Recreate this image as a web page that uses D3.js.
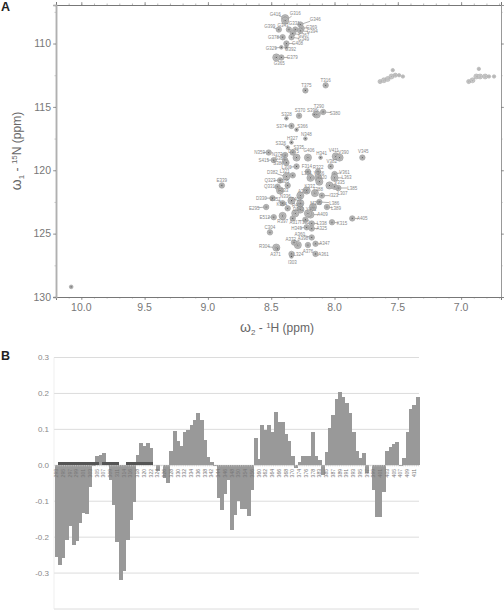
<!DOCTYPE html>
<html>
<head>
<meta charset="utf-8">
<script src="https://cdnjs.cloudflare.com/ajax/libs/d3/7.8.5/d3.min.js"></script>
<style>
html, body { margin: 0; padding: 0; background: #fff; }
svg { display: block; font-family: "Liberation Sans", Arial, sans-serif; }
</style>
</head>
<body>
<div id="chart"></div>
<script>
// panel A, 1H-15N peaks: assignment, 1H ppm, 15N ppm, relative intensity
const peakNames = [
  "G416","G316","G346","G399","G343","G331","G369","G394","G367","G349",
  "G378","G408","G392","G329","G379","G365","T375","T316","T290","S380",
  "S396","S370","S328","S374","S366","N348","H327","S326","S335","N359",
  "N373","S415","S381","S386","G406","D375","H341","V411","V390","V345",
  "V382","L300","F314","R322","V361","L363","D382","L321","V366","Q323",
  "Q331","D330","E295","E512","R397","A317","T302","L338","A409","K315",
  "A405","H349","A325","C304","A360","A372","A398","A347","A376","R304",
  "A371","L324","A361","I303","E339","",
  "L354","I320","L307","L385","V335","S305","F333","N336","A362","K337",
  "T388","I323","L389","L386","R400","Y401","T403","E351","K334","D342","M393"
];
const peakH = [
  8.39,8.39,8.27,8.44,8.36,8.31,8.26,8.27,8.33,8.34,
  8.41,8.38,8.38,8.42,8.42,8.46,8.23,8.07,8.14,8.09,
  8.16,8.28,8.38,8.34,8.30,8.23,8.34,8.37,8.33,8.52,
  8.39,8.48,8.39,8.38,8.21,8.30,8.11,7.99,7.96,7.78,
  8.03,8.30,8.21,8.13,8.00,8.00,8.38,8.33,8.13,8.43,
  8.45,8.49,8.54,8.48,8.41,8.33,8.23,8.18,8.19,8.02,
  7.86,8.22,8.18,8.51,8.18,8.29,8.32,8.15,8.21,8.46,
  8.45,8.34,8.15,8.34,8.89,10.08,
  8.19,8.12,8.04,7.97,8.00,8.37,8.43,8.34,8.27,8.22,
  8.155,8.10,8.06,8.12,8.27,8.21,8.27,8.41,8.37,8.31,8.17
];
const peakN = [
  108.0,108.2,108.5,108.9,108.9,108.9,108.8,109.0,109.2,109.5,
  109.5,110.0,110.3,110.3,111.1,111.1,113.7,113.3,115.6,115.4,
  115.6,115.7,115.9,116.5,116.8,117.5,117.8,118.2,118.6,118.6,
  118.8,119.2,119.2,119.4,119.0,119.0,119.0,118.9,119.0,119.0,
  119.7,119.7,120.1,120.1,120.3,120.6,120.5,120.4,120.6,120.8,
  121.3,122.2,122.9,123.7,123.6,123.8,123.9,124.2,123.5,124.1,
  123.8,124.5,124.6,124.9,125.3,125.9,125.7,125.8,125.9,126.1,
  126.2,126.6,126.6,126.8,121.2,129.2,
  120.6,120.9,121.2,121.4,121.3,121.2,121.6,122.4,122.0,121.6,
  121.8,122.0,122.9,122.5,123.1,123.4,122.6,122.6,123.0,123.4,122.9
];
const peakIntensity = [
  3,3,2,2,2,2,2,2,2,2,
  2,2,1,1,2,3,2,2,3,2,
  1,2,1,2,1,1,1,1,2,2,
  2,2,2,2,3,3,1,3,3,2,
  2,2,2,2,2,3,3,2,3,2,
  2,2,2,2,3,2,2,2,3,2,
  2,2,2,2,2,3,2,2,2,3,
  1,2,2,1,2,1,
  3,3,3,2,2,2,3,3,3,3,
  3,2,2,2,3,3,3,2,2,3,3
];

// sidechain NH2 blobs, upper right of the spectrum
const sidechainH = [7.64,7.61,7.58,7.55,7.52,7.49,7.46,7.54, 6.94,6.91,6.88,6.85,6.81,6.78,6.74,6.86];
const sidechainN = [113.0,112.9,112.8,112.6,112.5,112.5,112.6,112.1, 113.0,112.9,112.6,112.6,112.6,112.6,112.6,112.0];
const sidechainIntensity = [1.5,2,2,2,1.5,1,1,1, 1.5,2,2,2,2,1,1,1];

// panel B, residue numbers and per residue values
const residues = [
  293,294,295,296,297,298,299,300,301,302,303,304,305,306,307,308,309,310,311,312,
  314,315,316,317,318,319,320,321,322,323,324,325,326,327,328,329,330,331,332,333,334,335,336,337,338,
  341,342,343,344,345,346,347,348,349,350,
  353,354,355,356,357,
  360,361,362,363,364,365,366,367,368,369,370,
  373,374,375,376,377,378,379,
  383,384,385,386,387,388,389,390,391,392,393,394,395,396,397,398,399,400,401,402,403,404,405,406,407,408,409,410,411,412
];
const values = [
  -0.255,-0.277,-0.258,-0.207,-0.168,-0.222,-0.212,-0.162,-0.133,-0.135,
  -0.06,-0.002,0.025,0.028,0.035,0,-0.04,-0.11,-0.213,-0.32,
  -0.295,-0.207,-0.152,-0.103,0.028,0.062,0.054,0.063,0.049,0.002,
  -0.015,0,-0.035,-0.05,0.04,0.096,0.067,0.055,0.093,0.097,
  0.113,0.125,0.145,0.125,0.07,0.022,0.01,-0.003,-0.092,-0.125,
  -0.08,-0.04,-0.18,-0.138,-0.10,-0.123,-0.123,-0.14,-0.07,0.077,
  0.017,0.113,0.098,0.113,0.092,0.148,0.12,0.12,0.086,0.068,
  0.027,-0.008,0.01,0.027,0.026,0.026,0.092,0.026,0.015,-0.028,
  0.037,0.105,0.14,0.185,0.205,0.19,0.173,0.145,0.093,0.04,
  0.02,0.033,-0.022,0,-0.068,-0.143,-0.143,-0.073,0.04,0.05,
  0.06,0.065,-0.003,0.02,0.092,0.157,0.167,0.19
];
// dark strip just above zero
const stripResidues = [
  294,295,296,297,298,299,300,301,302,303,304,305,
  307,308,309,310,311,
  315,316,317,318,319,320,321,322
];
const stripValue = 0.01;

const hTicks = [10.0,9.5,9.0,8.5,8.0,7.5,7.0];
const nTicks = [110,115,120,125,130];
const valueTicks = [0.3,0.2,0.1,0.0,-0.1,-0.2,-0.3];

// label placement for panel A (px from the peak), same order as peakNames
const labelDx = [
  -10,10,15,-9,-6,-1,10,12,11,12,
  -9,11,4,-10,11,3,1,0,2,12,
  -2,1,0,-10,6,1,1,-7,6,-9,
  -8,-10,-5,-8,1,-3,1,-2,4,1,
  1,-10,-1,0,10,12,-14,-8,1,-10,
  -8,-11,-12,-9,0,2,-1,10,12,10,
  10,-10,10,0,-12,-7,9,9,0,-12,
  -2,7,8,1,0,0,
  -4,3,13,14,5,-4,3,-6,3,3,
  3,12,9,15,-3,3,-4,-7,-6,3,3
];
const labelDy = [
  -4,-7,-5,-3,-4,-6,-1,1,2,2,
  0,0,2,1,0,6,-5,-5,-8,1,
  -4,-5,-4,0,-3,-4,-4,-4,-5,0,
  -1,0,-2,1,-7,-6,-4,-6,-5,-6,
  -5,1,-5,-4,-2,0,-4,-4,-4,0,
  0,0,1,0,6,4,3,0,0,1,
  0,1,0,-5,-3,-6,-4,0,6,-1,
  6,0,0,6,-5,0,
  -4,-4,8,0,-4,-4,0,-4,-4,-4,
  -4,0,1,1,-4,-4,-4,-4,-4,-4,-4
];

const W = 504, H = 611;
const svg = d3.select("#chart").append("svg").attr("width", W).attr("height", H);

/* ---------- panel A ---------- */
const xA = d3.scaleLinear().domain([10.2, 6.685]).range([56, 501]);
const yA = d3.scaleLinear().domain([106.96, 130]).range([5, 297]);
const rScale = d3.scaleLinear().domain([1, 3]).range([1.9, 3.6]);

const hMinor = d3.range(102, 66, -1).map(d => d / 10);
const nMinor = d3.range(107.5, 130, 2.5);

function styleAxis(g, color, width) {
  g.selectAll("path").attr("stroke", color).attr("stroke-width", width);
  g.selectAll("line").attr("stroke", color).attr("stroke-width", 0.7);
}

const axisH = [
  [d3.axisBottom(xA), 297, "#777", 1],
  [d3.axisTop(xA), 5, "#777", 1]
];
axisH.forEach(([ax, y, color, w]) => {
  svg.append("g").attr("transform", `translate(0,${y})`)
    .call(ax.tickValues(hMinor).tickSize(1.5).tickFormat(""))
    .call(g => styleAxis(g, "#999", w));
  svg.append("g").attr("transform", `translate(0,${y})`)
    .call(ax.tickValues(hTicks).tickSize(3).tickFormat(""))
    .call(g => styleAxis(g, color, w));
});
[[d3.axisRight(yA), 501, "#999", 1], [d3.axisLeft(yA), 56, "#b0b0b0", 1.5]].forEach(([ax, x, color, w]) => {
  svg.append("g").attr("transform", `translate(${x},0)`)
    .call(ax.tickValues(nMinor).tickSize(1.5).tickFormat(""))
    .call(g => styleAxis(g, color, w));
  svg.append("g").attr("transform", `translate(${x},0)`)
    .call(ax.tickValues(nTicks).tickSize(3).tickFormat(""))
    .call(g => {
      styleAxis(g, "#777", w);
      g.select("path").attr("stroke", color);
    });
});

// tick labels
svg.append("g").selectAll("text").data(hTicks).join("text")
  .attr("x", d => xA(d)).attr("y", 311)
  .attr("text-anchor", "middle").attr("font-size", 10.5).attr("fill", "#777")
  .text(d => d.toFixed(1));
svg.append("g").selectAll("text").data(nTicks).join("text")
  .attr("x", 51).attr("y", d => yA(d) + 3.8)
  .attr("text-anchor", "end").attr("font-size", 10.5).attr("fill", "#777")
  .text(d => d);

// axis titles
const xTitle = svg.append("text").attr("x", 277).attr("y", 332)
  .attr("text-anchor", "middle").attr("font-size", 12).attr("fill", "#666");
xTitle.append("tspan").attr("font-size", 14).text("\u03C9");
xTitle.append("tspan").attr("font-size", 8).attr("dy", 2.5).text("2");
xTitle.append("tspan").attr("dy", -2.5).text(" - ");
xTitle.append("tspan").attr("font-size", 8).attr("dy", -4).text("1");
xTitle.append("tspan").attr("dy", 4).text("H  (ppm)");

const yTitle = svg.append("text").attr("transform", "translate(21,151) rotate(-90)")
  .attr("text-anchor", "middle").attr("font-size", 12).attr("fill", "#666");
yTitle.append("tspan").attr("font-size", 14).text("\u03C9");
yTitle.append("tspan").attr("font-size", 8).attr("dy", 2.5).text("1");
yTitle.append("tspan").attr("dy", -2.5).text(" - ");
yTitle.append("tspan").attr("font-size", 8).attr("dy", -4).text("15");
yTitle.append("tspan").attr("dy", 4).text("N  (ppm)");

// peaks
const peaks = peakNames.map((name, i) => ({
  name, h: peakH[i], n: peakN[i], r: rScale(peakIntensity[i]), dx: labelDx[i], dy: labelDy[i]
}));

const peakLayer = svg.append("g");
const leaders = peaks.filter(p => p.name && Math.hypot(p.dx, p.dy) > 8);
peakLayer.selectAll("line").data(leaders).join("line")
  .attr("x1", d => xA(d.h)).attr("y1", d => yA(d.n))
  .attr("x2", d => xA(d.h) + d.dx * 0.65).attr("y2", d => yA(d.n) + d.dy * 0.65)
  .attr("stroke", "#666").attr("stroke-width", 0.5);

function drawBlobs(layer, data, fill, edge, core) {
  const g = layer.append("g").selectAll("g").data(data).join("g")
    .attr("transform", d => `translate(${xA(d.h)},${yA(d.n)})`);
  g.append("circle").attr("r", d => d.r).attr("fill", fill).attr("stroke", edge).attr("stroke-width", 0.5);
  g.append("circle").attr("r", d => d.r * 0.5).attr("fill", "none").attr("stroke", edge).attr("stroke-width", 0.4);
  g.append("circle").attr("r", 0.6).attr("fill", core);
}
drawBlobs(peakLayer, peaks, "#bdbdbd", "#8c8c8c", "#555");

const sidechains = sidechainH.map((h, i) => ({ h, n: sidechainN[i], r: rScale(sidechainIntensity[i]) * 0.9 }));
drawBlobs(peakLayer, sidechains, "#d6d6d6", "#999", "#aaa");

peakLayer.append("g").selectAll("text").data(peaks.filter(p => p.name)).join("text")
  .attr("x", d => xA(d.h) + d.dx).attr("y", d => yA(d.n) + d.dy + 1.6)
  .attr("text-anchor", "middle").attr("font-size", 4.5).attr("fill", "#888")
  .text(d => d.name);

/* ---------- panel B ---------- */
const xB = d3.scaleBand().domain(residues).range([54.7, 419]);
const yB = d3.scaleLinear().domain([-0.4, 0.3]).range([609, 357.5]);

svg.append("g").selectAll("line").data(valueTicks.concat([-0.4])).join("line")
  .attr("x1", 54).attr("x2", 419)
  .attr("y1", d => yB(d)).attr("y2", d => yB(d))
  .attr("stroke", "#dcdcdc").attr("stroke-width", 1);

svg.append("line").attr("x1", 54).attr("x2", 54).attr("y1", 357.5).attr("y2", 609)
  .attr("stroke", "#e8e8e8").attr("stroke-width", 0.7);

// crisp edges plus a little overlap, otherwise white seams show between neighbours
svg.append("g").attr("shape-rendering", "crispEdges").selectAll("rect").data(residues).join("rect")
  .attr("x", d => xB(d)).attr("width", xB.bandwidth() + 0.6)
  .attr("y", (d, i) => yB(Math.max(0, values[i])))
  .attr("height", (d, i) => Math.abs(yB(values[i]) - yB(0)))
  .attr("fill", "#999");

svg.append("g").attr("shape-rendering", "crispEdges").selectAll("rect").data(stripResidues).join("rect")
  .attr("x", d => xB(d)).attr("width", xB.bandwidth() + 0.6)
  .attr("y", yB(stripValue)).attr("height", yB(0) - yB(stripValue))
  .attr("fill", "#555");

svg.append("g").selectAll("text").data(valueTicks).join("text")
  .attr("x", 49).attr("y", d => yB(d) + 2.8)
  .attr("text-anchor", "end").attr("font-size", 8).attr("fill", "#888")
  .text(d => d.toFixed(1));

const labelled = residues.filter((d, i) => i % 2 === 0);
svg.append("g").attr("transform", `translate(0,${yB(0)})`)
  .call(d3.axisBottom(xB).tickValues(labelled).tickSize(0).tickPadding(0))
  .call(g => {
    g.select("path").attr("stroke", "#ccc").attr("stroke-width", 1).attr("stroke-dasharray", "1,1.2");
    g.selectAll("text")
      .attr("transform", "rotate(-90)")
      .attr("x", -3.5).attr("y", 0).attr("dy", "0.35em")
      .attr("text-anchor", "end")
      .attr("font-family", "Liberation Sans")
      .attr("font-size", 5.2).attr("fill", "#777");
  });

// panel letters
svg.append("text").attr("x", 1).attr("y", 11).attr("font-size", 12.5).attr("font-weight", "bold").attr("fill", "#222").text("A");
svg.append("text").attr("x", 1).attr("y", 360).attr("font-size", 12.5).attr("font-weight", "bold").attr("fill", "#222").text("B");
</script>
</body>
</html>
